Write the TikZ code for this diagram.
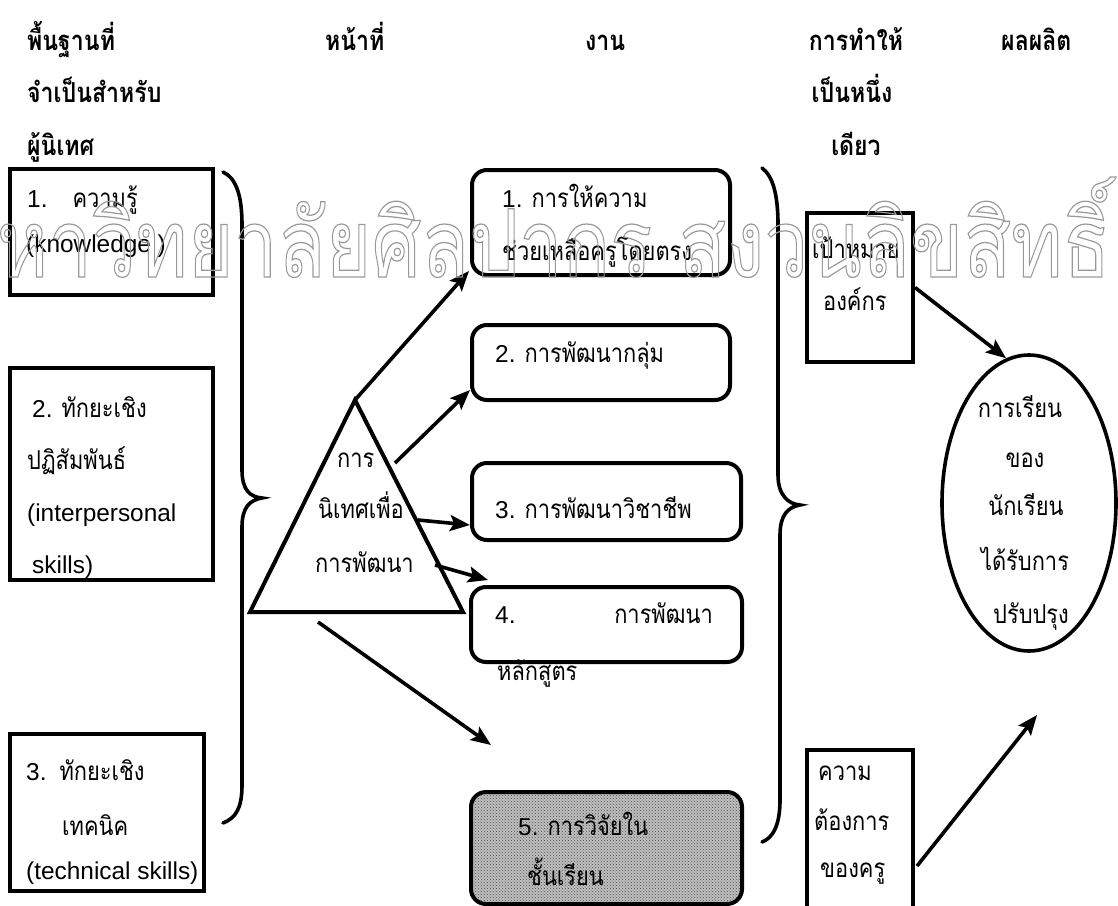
\documentclass[tikz,border=0pt]{standalone}
\usepackage{fontspec}
\usepackage{graphicx}
\setmainfont{Liberation Sans}
\newfontfamily\thaifont[Script=Thai,FakeStretch=0.84]{Loma}
\newfontfamily\thaiwm[Script=Thai]{Loma}
\usetikzlibrary{arrows.meta,shapes.geometric,patterns,calc}
\newcommand\tht[1]{{\thaifont\fontsize{26}{52}\selectfont #1}}
\newcommand\bodysize{\fontsize{24.4}{52}\selectfont}
\newcommand\hdrfont{\thaifont\fontsize{27.5}{52}\selectfont\bfseries}
\newcommand\wmoutline[1]{\special{pdf:code q 1 Tr 0.13 w 0.6 0.6 0.6 RG}#1\special{pdf:code Q}}
\begin{document}
\begin{tikzpicture}[x=1pt,y=-1pt,
  sq/.style={draw, line width=4pt, inner sep=0pt},
  rbox/.style={draw, line width=4pt, rounded corners=15pt, inner sep=0pt},
  txt/.style={anchor=base west, inner sep=0pt, font=\bodysize},
  txtc/.style={anchor=base, inner sep=0pt, font=\bodysize},
  txte/.style={anchor=base east, inner sep=0pt, font=\bodysize},
  hdr/.style={anchor=base west, inner sep=0pt, font=\hdrfont},
  hdrc/.style={anchor=base, inner sep=0pt, font=\hdrfont},
  conn/.style={line width=3.6pt, -{Stealth[length=20pt,width=16pt,inset=4pt]}},
  bracepath/.style={line width=3.6pt, line cap=round}]
\useasboundingbox (0,0) rectangle (1118,905);
\clip (0,0) rectangle (1118,905);

% headers
\node[hdr] (h1a) at (27,50) {พื้นฐานที่};
\node[hdr] (h1b) at (27,102) {จำเป็นสำหรับ};
\node[hdr] (h1c) at (27,155) {ผู้นิเทศ};
\node[hdr] (h2) at (325,50) {หน้าที่};
\node[hdr] (h3) at (585,50) {งาน};
\node[hdrc] (h4a) at (856,50) {การทำให้};
\node[hdrc] (h4b) at (852,102) {เป็นหนึ่ง};
\node[hdrc] (h4c) at (856,155) {เดียว};
\node[hdr] (h5) at (1001,50) {ผลผลิต};

% left boxes
\node[sq, minimum width=203pt, minimum height=126pt] (b1) at (111.5,232) {};
\node[sq, minimum width=203pt, minimum height=212pt] (b2) at (111.5,474) {};
\node[sq, minimum width=194pt, minimum height=157pt] (b3) at (107,812.5) {};
\node[txt] (t1a) at (27,207) {1.\hspace{25pt}\tht{ความรู้}};
\node[txt] (t1b) at (26,252) {(knowledge )};
\node[txt] (t2a) at (32,417) {2. \tht{ทักยะเชิง}};
\node[txt] (t2b) at (27,469) {\tht{ปฏิสัมพันธ์}};
\node[txt] (t2c) at (27,521) {(interpersonal};
\node[txt] (t2d) at (32,573) {skills)};
\node[txt] (t3a) at (26,780) {3.\hspace{13pt}\tht{ทักยะเชิง}};
\node[txt] (t3b) at (62,835) {\tht{เทคนิค}};
\node[txt] (t3c) at (26,879) {(technical skills)};

% left brace
\draw[bracepath] (223,172) .. controls (236,178) and (242,195) .. (242,225) -- (242,470)
  .. controls (242,490) and (250,497) .. (262,498)
  .. controls (250,500) and (242,507) .. (242,527) -- (242,785)
  .. controls (242,808) and (236,818) .. (223,823);

% triangle
\coordinate (tA) at (355,400);
\coordinate (tL) at (250,612);
\coordinate (tR) at (463,612);
\draw[line width=4pt, line join=miter] (tA) -- (tL) -- (tR) -- cycle;
\node[txt] (tr1) at (337,467) {\tht{การ}};
\node[txt] (tr2) at (318,518) {\tht{นิเทศเพื่อ}};
\node[txt] (tr3) at (315,572) {\tht{การพัฒนา}};

% middle boxes
\node[rbox, minimum width=258pt, minimum height=105pt] (m1) at (601,222.5) {};
\node[rbox, minimum width=258pt, minimum height=75pt] (m2) at (601,362.5) {};
\node[rbox, minimum width=269pt, minimum height=77pt] (m3) at (606.5,501.5) {};
\node[rbox, minimum width=271pt, minimum height=75pt] (m4) at (606.5,624.5) {};
\node[rbox, minimum width=271pt, minimum height=112pt,
      preaction={fill=gray!50}, pattern=crosshatch dots, pattern color=black!70] (m5) at (606.5,848) {};
\node[txt] (m1a) at (502,207) {1. \tht{การให้ความ}};
\node[txt] (m1b) at (502,260) {\tht{ช่วยเหลือครูโดยตรง}};
\node[txt] (m2a) at (495,362) {2. \tht{การพัฒนากลุ่ม}};
\node[txt] (m3a) at (495,518) {3. \tht{การพัฒนาวิชาชีพ}};
\node[txt] (m4a) at (495,623) {4.};
\node[txte] (m4b) at (713,623) {\tht{การพัฒนา}};
\node[txt] (m4c) at (497,680) {\tht{หลักสูตร}};
\node[txt] (m5a) at (518,835) {5. \tht{การวิจัยใน}};
\node[txt] (m5b) at (527,885) {\tht{ชั้นเรียน}};

% arrows from triangle
\coordinate (s2) at (395,463);
\coordinate (s3) at (418,520);
\coordinate (s4) at (435,565);
\coordinate (s5) at (318,622);
\coordinate (e5) at (491,745);
\draw[conn] (tA) -- ($(m1.south west)+(-1,-6)$);
\draw[conn] (s2) -- ($(m2.south west)+(0,-12)$);
\draw[conn] (s3) -- ($(m3.west)+(0,23.5)$);
\draw[conn] (s4) -- ($(m4.north west)+(19,-5)$);
\draw[conn] (s5) -- (e5);

% right brace
\draw[bracepath] (762,168) .. controls (773,176) and (778,195) .. (778,225) -- (778,475)
  .. controls (778,495) and (788,504) .. (800,505)
  .. controls (788,507) and (780,515) .. (780,535) -- (780,800)
  .. controls (780,825) and (773,838) .. (762,842);

% right boxes
\node[sq, minimum width=106pt, minimum height=149pt] (r1) at (860,287.5) {};
\node[sq, minimum width=106pt, minimum height=180pt] (r2) at (860,840) {};
\node[txt] (r1a) at (812,258) {\tht{เป้าหมาย}};
\node[txt] (r1b) at (823,310) {\tht{องค์กร}};
\node[txt] (r2a) at (818,780) {\tht{ความ}};
\node[txt] (r2b) at (814,830) {\tht{ต้องการ}};
\node[txt] (r2c) at (820,877) {\tht{ของครู}};

% ellipse
\node[draw, ellipse, line width=3.6pt, minimum width=174pt, minimum height=296pt, inner sep=0pt] (ell) at (1029,503) {};
\node[txtc] (e1) at (1020,417) {\tht{การเรียน}};
\node[txtc] (e2) at (1025,467) {\tht{ของ}};
\node[txtc] (e3) at (1026,515) {\tht{นักเรียน}};
\node[txtc] (e4) at (1025,570) {\tht{ได้รับการ}};
\node[txtc] (e5) at (1031,623) {\tht{ปรับปรุง}};

\coordinate (e7) at (1037,715);
\draw[conn] (r1.east) -- (ell.99);
\draw[conn] ($(r2.north east)+(2,118)$) -- (e7);

% watermark
\node[anchor=base west, inner sep=0pt] (wm) at (-55,277)
  {\resizebox{1165pt}{100pt}{\wmoutline{\thaiwm\fontsize{10}{12}\selectfont มหาวิทยาลัยศิลปากร สงวนลิขสิทธิ์}}};
\end{tikzpicture}
\end{document}
